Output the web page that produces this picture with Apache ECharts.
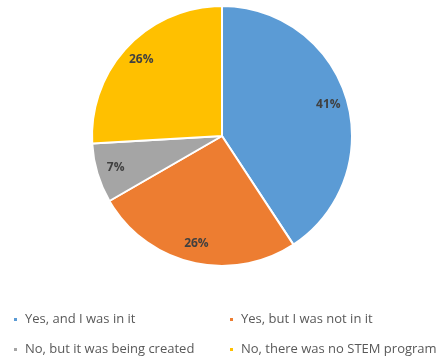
<!DOCTYPE html>
<html>
<head>
<meta charset="utf-8">
<script src="https://cdn.jsdelivr.net/npm/echarts@6/dist/echarts.min.js"></script>
<style>
  html, body { margin: 0; padding: 0; background: #fff; }
  #chart { width: 439px; height: 360px; }
</style>
</head>
<body>
<div id="chart"></div>
<script>
// answers to "was there a STEM program at your school?"
const categories = [
    'Yes, and I was in it',
    'Yes, but I was not in it',
    'No, but it was being created',
    'No, there was no STEM program'
];
const counts = [11, 7, 2, 7];
const colors = ['#5B9BD5', '#ED7D31', '#A5A5A5', '#FFC000'];

const pieData = categories.map((name, i) => ({
    name: name,
    value: counts[i],
    itemStyle: {color: colors[i]}
}));

const legendText = {fontFamily: 'Open Sans', fontSize: 13, color: '#595959', padding: [0, 0, 0, 2]};

function legendColumn(names, left) {
    return {
        data: names,
        orient: 'vertical',
        left: left,
        top: 313,
        height: 60,
        padding: 0,
        icon: 'rect',
        itemWidth: 5,
        itemHeight: 5,
        itemGap: 17,
        textStyle: legendText
    };
}

let myChart = echarts.init(document.getElementById('chart'));
myChart.setOption({
    animation: false,
    legend: [
        legendColumn([categories[0], categories[2]], 12),
        legendColumn([categories[1], categories[3]], 228)
    ],
    series: [{
        type: 'pie',
        center: [222, 136],
        radius: [0, 130],
        startAngle: 90,
        clockwise: true,
        label: {show: false},
        labelLine: {show: false},
        itemStyle: {borderColor: '#fff', borderWidth: 2},
        data: pieData
    }, {
        // label ring, only there to put the percentages near the rim
        type: 'pie',
        center: [222, 136],
        radius: [86, 130],
        startAngle: 90,
        silent: true,
        itemStyle: {color: 'rgba(0,0,0,0)'},
        label: {
            show: true,
            position: 'inside',
            formatter: p => Math.round(p.percent) + '%',
            fontFamily: 'Open Sans',
            fontSize: 12,
            fontWeight: 'bold',
            color: '#404040'
        },
        labelLine: {show: false},
        data: categories.map((name, i) => ({name: name, value: counts[i]}))
    }]
});
</script>
</body>
</html>
